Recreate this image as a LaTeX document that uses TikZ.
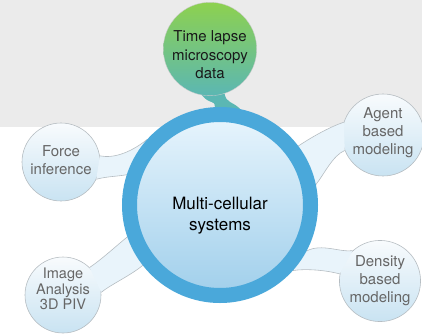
\documentclass[tikz,border=0pt]{standalone}
\usepackage{fontspec}
\setmainfont{TeX Gyre Heros}
\usetikzlibrary{backgrounds}
\definecolor{bandgray}{HTML}{EBEBEB}
\definecolor{leafgreen}{HTML}{8DD14F}
\definecolor{leafteal}{HTML}{5BB7B3}
\definecolor{hubring}{HTML}{4AA8DA}
\definecolor{hubtop}{HTML}{E8F5FD}
\definecolor{hubbot}{HTML}{A0CFEB}
\definecolor{sattop}{HTML}{F8FBFD}
\definecolor{satbot}{HTML}{C9E3F2}
\definecolor{satline}{HTML}{B5BCC1}
\definecolor{sattext}{HTML}{666666}
\definecolor{tailfill}{HTML}{E9F4FB}
% text block moved down by #1 inside its bubble
\newcommand\bubtext[2]{\raisebox{0pt}[\dimexpr\height+#1\relax][\dimexpr\depth-#1\relax]{\begin{tabular}{@{}c@{}}#2\end{tabular}}}
\begin{document}
\begin{tikzpicture}[x=.3mm,y=-.3mm,
  sat/.style={circle,draw=satline,line width=.5pt,top color=sattop,bottom color=satbot,
    minimum size=24mm,inner sep=0pt,text=sattext,font=\fontsize{12.8}{15.4}\selectfont},
  hub/.style={circle,draw=hubring,line width=4.5mm,top color=hubtop,bottom color=hubbot,
    minimum size=54.3mm,inner sep=0pt,font=\fontsize{14.5}{17.1}\selectfont},
  topic/.style={circle,draw=black!20,line width=.3pt,top color=leafgreen,bottom color=leafteal,
    minimum size=24.6mm,inner sep=0pt,text=black!90,font=\fontsize{12.8}{15.8}\selectfont},
  tail/.style={fill=tailfill},
  tailedge/.style={draw=satline,line width=.5pt}]
\useasboundingbox (0,0) rectangle (422,334);
\node[hub] (hub) at (220,205) {\bubtext{3.3mm}{Multi-cellular\\systems}};
\node[topic] (data) at (210,49) {\bubtext{2.2mm}{Time lapse\\microscopy\\data}};
\begin{scope}[on background layer]
\fill[bandgray] (0,0) rectangle (422,127);
\node[sat,minimum size=23.4mm] (force) at (61,162) {\bubtext{0mm}{Force\\inference}};
\node[sat,minimum size=24.6mm] (agent) at (383,135) {\bubtext{-.6mm}{Agent\\based\\modeling}};
\node[sat,minimum size=22.8mm,font=\fontsize{12.4}{13.3}\selectfont] (image) at (63,295) {\bubtext{-1.2mm}{Image\\Analysis\\3D PIV}};
\node[sat] (density) at (380,281) {\bubtext{0mm}{Density\\based\\modeling}};
% tails to the hub
\fill[tail] (force.9) .. controls +(15,3) and +(-15,12) .. (hub.138) -- (hub.162) .. controls +(-12,2) and +(12,-3) .. (force.-26) -- cycle;
\draw[tailedge] (force.9) .. controls +(15,3) and +(-15,12) .. (hub.138) (hub.162) .. controls +(-12,2) and +(12,-3) .. (force.-26);
\fill[tail] (hub.37) .. controls +(12,-8) and +(-15,5) .. (agent.162) -- (agent.-158) .. controls +(-12,5) and +(8,-10) .. (hub.12) -- cycle;
\draw[tailedge] (hub.37) .. controls +(12,-8) and +(-15,5) .. (agent.162) (agent.-158) .. controls +(-12,5) and +(8,-10) .. (hub.12);
\fill[tail] (image.46) .. controls +(12,-8) and +(-10,8) .. (hub.-161) -- (hub.-142) .. controls +(-12,10) and +(10,-8) .. (image.4) -- cycle;
\draw[tailedge] (image.46) .. controls +(12,-8) and +(-10,8) .. (hub.-161) (hub.-142) .. controls +(-12,10) and +(10,-8) .. (image.4);
\fill[tail] (hub.-28) .. controls +(15,-8) and +(-12,2) .. (density.132) -- (density.170) .. controls +(-15,-4) and +(12,-2) .. (hub.-42) -- cycle;
\draw[tailedge] (hub.-28) .. controls +(15,-8) and +(-12,2) .. (density.132) (density.170) .. controls +(-15,-4) and +(12,-2) .. (hub.-42);
% neck of the data bubble
\fill[leafteal] (data.-100) .. controls +(8,10) and +(0,-8) .. (hub.93) -- (hub.78) .. controls +(-8,-8) and +(2,10) .. (data.-72) -- cycle;
\end{scope}
\end{tikzpicture}
\end{document}
